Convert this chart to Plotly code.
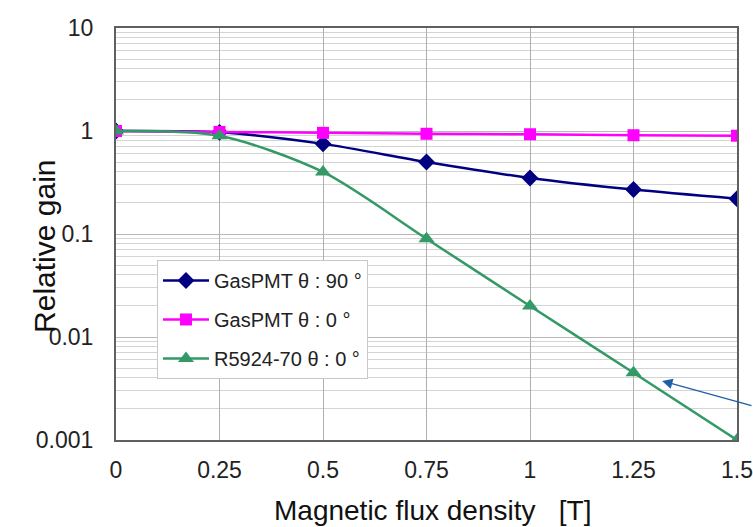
import plotly.graph_objects as go

x_vals = [0, 0.25, 0.5, 0.75, 1.0, 1.25, 1.5]
gas90 = [1.0, 0.97, 0.75, 0.50, 0.35, 0.27, 0.22]
gas0 = [1.0, 0.98, 0.96, 0.94, 0.93, 0.91, 0.90]
r5924 = [1.0, 0.90, 0.40, 0.09, 0.020, 0.0045, 0.001]

x_ticks = [0, 0.25, 0.5, 0.75, 1.0, 1.25, 1.5]
x_ticktext = ["0", "0.25", "0.5", "0.75", "1", "1.25", "1.5"]
y_ticks = [0.001, 0.01, 0.1, 1, 10]
y_ticktext = ["0.001", "0.01", "0.1", "1", "10"]

names = ["GasPMT θ : 90 °", "GasPMT θ : 0 °", "R5924-70 θ : 0 °"]

fig = go.Figure()
fig.add_trace(go.Scatter(x=x_vals, y=gas90, name=names[0], mode="lines+markers",
                         legendgroup="a",
                         line=dict(color="#000080", width=2.5, shape="spline", smoothing=0.8),
                         marker=dict(symbol="diamond", size=13, color="#000080")))
fig.add_trace(go.Scatter(x=x_vals, y=gas0, name=names[1], mode="lines+markers",
                         legendgroup="b",
                         line=dict(color="#FF00FF", width=2.5, shape="spline", smoothing=0.8),
                         marker=dict(symbol="square", size=12, color="#FF00FF")))
fig.add_trace(go.Scatter(x=x_vals, y=r5924, name=names[2], mode="lines+markers",
                         legendgroup="c",
                         line=dict(color="#339966", width=2.5, shape="spline", smoothing=0.8),
                         marker=dict(symbol="triangle-up", size=14, color="#339966")))

fig.update_layout(
    width=753, height=527,
    margin=dict(l=116, r=16, t=28, b=87, autoexpand=False),
    paper_bgcolor="white", plot_bgcolor="white",
    font=dict(family="Liberation Sans, Arial, sans-serif", color="#222", size=23),
    showlegend=True,
    legend=dict(x=0.066, y=0.437, xanchor="left", yanchor="top",
                bgcolor="white", bordercolor="#c8c8c8", borderwidth=1,
                font=dict(size=20, color="#222"), tracegroupgap=10,
                itemwidth=46),
    xaxis=dict(range=[0, 1.5], tickvals=x_ticks, ticktext=x_ticktext,
               showgrid=True, gridcolor="#b0b0b0", gridwidth=1,
               showline=True, linecolor="#606060", linewidth=2, mirror=True,
               ticks="outside", ticklen=8, tickcolor="rgba(0,0,0,0)",
               zeroline=False, automargin=False,
               tickfont=dict(size=23)),
    yaxis=dict(type="log", range=[-3, 1], tickvals=y_ticks, ticktext=y_ticktext,
               showgrid=True, gridcolor="#b8b8b8", gridwidth=1,
               minor=dict(dtick="D1", showgrid=True, gridcolor="#d4d4d4", gridwidth=1),
               showline=True, linecolor="#606060", linewidth=2, mirror=True,
               ticks="outside", ticklen=16, tickcolor="rgba(0,0,0,0)",
               zeroline=False, automargin=False,
               tickfont=dict(size=23)),
)

fig.add_annotation(text="Relative gain", xref="paper", yref="paper",
                   x=-0.115, y=0.47, textangle=-90, showarrow=False,
                   xanchor="center", yanchor="middle",
                   font=dict(size=30, color="#111"))
fig.add_annotation(text="Magnetic flux density   [T]", xref="paper", yref="paper",
                   x=0.51, y=-0.17, showarrow=False,
                   xanchor="center", yanchor="middle",
                   font=dict(size=28, color="#111"))

fig.add_annotation(x=1.319, y=-2.427, xref="x", yref="y", ax=95, ay=25,
                   axref="pixel", ayref="pixel", text="", showarrow=True,
                   arrowhead=2, arrowsize=1.6, arrowwidth=1.3, arrowcolor="#1f5fa8")

fig.write_html("out.html")
